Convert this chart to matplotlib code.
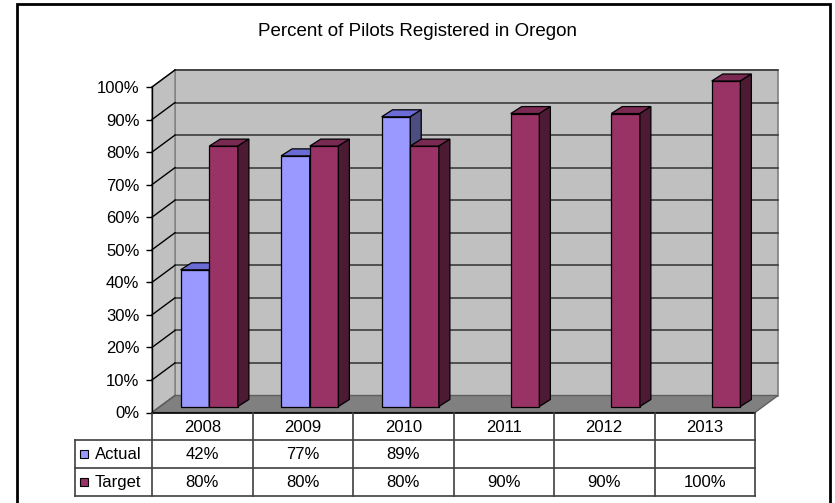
import matplotlib
matplotlib.use("Agg")
import matplotlib.pyplot as plt
from matplotlib.patches import Rectangle, Polygon
from matplotlib.transforms import IdentityTransform
from matplotlib.ticker import FuncFormatter

plt.rcParams['font.family'] = ['Liberation Sans', 'DejaVu Sans']

# data
years = ['2008', '2009', '2010', '2011', '2012', '2013']
actual = [42, 77, 89, None, None, None]
target = [80, 80, 80, 90, 90, 100]
title = 'Percent of Pilots Registered in Oregon'

W, H = 835, 503
fig = plt.figure(figsize=(W / 100, H / 100), dpi=100)

# front plane of the 3d box, in pixels
x0, x1, y0, y1 = 152, 755, 412.5, 87
ax = fig.add_axes([x0 / W, (H - y0) / H, (x1 - x0) / W, (y0 - y1) / H])
ax.set_xlim(0, 6)
ax.set_ylim(0, 100)
ax.patch.set_visible(False)
for s in ['top', 'right', 'bottom']:
    ax.spines[s].set_visible(False)
ax.spines['left'].set_linewidth(1.0)
ax.set_xticks([])
ax.set_yticks(range(0, 101, 10))
ax.yaxis.set_major_formatter(FuncFormatter(lambda v, p: '%d%%' % v))
ax.tick_params(axis='y', length=4, width=1, pad=5, labelsize=12)

DX, DY = 23, 17      # depth of the box in pixels
BDX, BDY = 8, 6      # where the bars stand
SDX, SDY = 11, 7     # bar depth

def pt(x, y, dx=0, dy=0):
    p = ax.transData.transform((x, y))
    return (p[0] + dx, p[1] + dy)

def poly(pts, fc, ec='black', lw=0.9, z=1):
    ax.add_patch(Polygon(pts, closed=True, facecolor=fc, edgecolor=ec, lw=lw,
                         transform=IdentityTransform(), clip_on=False, zorder=z))

def seg(a, b, c='#333333', lw=1.1, z=2):
    ax.add_line(plt.Line2D([a[0], b[0]], [a[1], b[1]], color=c, lw=lw,
                           transform=IdentityTransform(), clip_on=False, zorder=z))

# back wall
poly([pt(0, 0, DX, DY), pt(6, 0, DX, DY), pt(6, 100, DX, DY), pt(0, 100, DX, DY)],
     '#c0c0c0', ec='#808080', lw=1.2, z=0.5)
# side wall
poly([pt(0, 0), pt(0, 0, DX, DY), pt(0, 100, DX, DY), pt(0, 100)],
     '#c0c0c0', ec='#808080', lw=1.0, z=0.6)
# floor
poly([pt(0, 0), pt(6, 0), pt(6, 0, DX, DY), pt(0, 0, DX, DY)],
     '#808080', ec='#606060', lw=1.0, z=0.7)

for v in range(10, 101, 10):
    seg(pt(0, v, DX, DY), pt(6, v, DX, DY), z=0.8)
    seg(pt(0, v), pt(0, v, DX, DY), c='black', lw=1.0, z=0.8)
seg(pt(0, 0), pt(0, 0, DX, DY), c='#606060', z=0.8)
seg(pt(0, 0), pt(6, 0), c='black', lw=1.2, z=5)

# bars
bw = 0.285
cols = [('#9999ff', '#6b6bd6', '#4d4d80'), ('#993366', '#7a2952', '#4d1a33')]
for i in range(len(years)):
    for k, vals in enumerate([actual, target]):
        v = vals[i]
        if v is None:
            continue
        fc, tc, sc = cols[k]
        a = i + 0.49 - bw + k * bw
        b = a + bw
        z = 2 + i + k * 0.1
        poly([pt(a, 0, BDX, BDY), pt(b, 0, BDX, BDY), pt(b, v, BDX, BDY), pt(a, v, BDX, BDY)], fc, z=z)
        poly([pt(a, v, BDX, BDY), pt(b, v, BDX, BDY), pt(b, v, BDX + SDX, BDY + SDY),
              pt(a, v, BDX + SDX, BDY + SDY)], tc, z=z)
        poly([pt(b, 0, BDX, BDY), pt(b, 0, BDX + SDX, BDY + SDY), pt(b, v, BDX + SDX, BDY + SDY),
              pt(b, v, BDX, BDY)], sc, z=z)

# data table
ty1 = 496
tax = fig.add_axes([x0 / W, (H - ty1) / H, (x1 - x0) / W, (ty1 - y0) / H])
tax.set_xlim(0, 6)
tax.set_ylim(3, 0)
tax.axis('off')
lx = -(x0 - 75) / ((x1 - x0) / 6)
lc = '#404040'
for r in [1, 2, 3]:
    tax.plot([lx, 6], [r, r], color=lc, lw=1.2, clip_on=False)
for c in range(7):
    tax.plot([c, c], [0, 3], color=lc, lw=1.2, clip_on=False)
tax.plot([lx, lx], [1, 3], color=lc, lw=1.2, clip_on=False)
fs = 12
for i, y in enumerate(years):
    tax.text(i + 0.5, 0.55, y, ha='center', va='center', fontsize=fs)
    if actual[i] is not None:
        tax.text(i + 0.5, 1.5, '%d%%' % actual[i], ha='center', va='center', fontsize=fs)
    tax.text(i + 0.5, 2.5, '%d%%' % target[i], ha='center', va='center', fontsize=fs)
for r, (name, c) in enumerate([('Actual', cols[0][0]), ('Target', cols[1][0])]):
    tax.plot([lx + 0.085], [r + 1.5], marker='s', ms=6, mfc=c, mec='black', mew=0.8, clip_on=False)
    tax.text(lx + 0.2, r + 1.5, name, ha='left', va='center', fontsize=fs)

fig.text(418 / W, 1 - 32 / H, title, ha='center', va='center', fontsize=13.5)

# chart border
fig.add_artist(Rectangle((17 / W, -0.02), (830 - 17) / W, (H - 4) / H + 0.02, fill=False,
                         edgecolor='black', lw=2, transform=fig.transFigure))

fig.savefig('out.png', dpi=100)
